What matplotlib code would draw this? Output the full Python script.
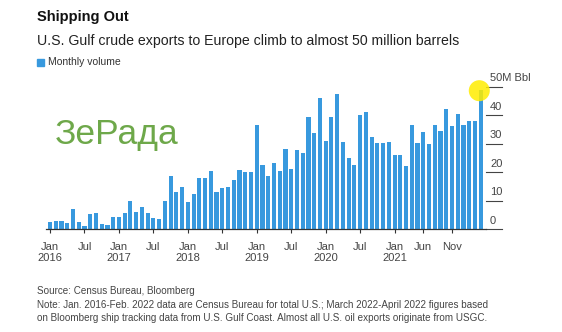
import matplotlib.pyplot as plt
from matplotlib.patches import Rectangle

plt.rcParams['font.family'] = ['Liberation Sans', 'DejaVu Sans']

# monthly crude exports, million barrels, Jan 2016 - Apr 2022
vals_2016 = [2.5, 2.9, 2.9, 2.1, 7.0, 2.5, 1.0, 5.3, 5.6, 1.7, 1.5, 4.4]
vals_2017 = [4.4, 5.8, 10.0, 6.0, 7.7, 5.6, 3.9, 3.5, 10.0, 18.7, 13.2, 15.0]
vals_2018 = [9.7, 12.4, 17.9, 18.0, 20.6, 13.0, 14.5, 15.0, 17.3, 20.9, 20.0, 20.2]
vals_2019 = [36.5, 22.6, 18.8, 23.4, 20.6, 28.3, 21.3, 27.7, 26.9, 39.3, 33.6, 46.0]
vals_2020 = [31.1, 39.3, 47.5, 30.6, 25.1, 22.7, 40.2, 41.1, 32.5, 30.4, 30.4, 30.6]
vals_2021 = [26.2, 26.0, 22.2, 36.5, 30.2, 34.2, 29.8, 36.5, 34.4, 42.1, 36.3, 40.6]
vals_2022 = [36.7, 38.0, 37.8, 48.9]
volume = vals_2016 + vals_2017 + vals_2018 + vals_2019 + vals_2020 + vals_2021 + vals_2022
months = list(range(len(volume)))

tick_pos = [0, 6, 12, 18, 24, 30, 36, 42, 48, 54, 60, 65, 70]
tick_labels = ['Jan\n2016', 'Jul', 'Jan\n2017', 'Jul', 'Jan\n2018', 'Jul', 'Jan\n2019',
               'Jul', 'Jan\n2020', 'Jul', 'Jan\n2021', 'Jun', 'Nov']
y_ticks = [0, 10, 20, 30, 40, 50]
y_labels = ['0', '10', '20', '30', '40', '50M Bbl']

W, H = 562, 332
fig = plt.figure(figsize=(W / 100, H / 100), dpi=100)
fig.patch.set_facecolor('white')

# axes placed in pixels: baseline at y=229, 10M bbl ~ 28.5 px
px_per_unit = 2.852
ax = fig.add_axes([46 / W, (H - 229.3) / H, 440 / W, 52 * px_per_unit / H])
ax.bar(months, volume, width=0.72, color='#3899de', zorder=2)
ax.set_xlim(-0.7, 75.92)
ax.set_ylim(0, 52)

for s in ['top', 'left', 'right']:
    ax.spines[s].set_visible(False)
ax.spines['bottom'].set_color('#333333')
ax.spines['bottom'].set_linewidth(0.9)
ax.set_yticks([])
ax.set_xticks(tick_pos, tick_labels)
ax.tick_params(axis='x', length=3, width=0.8, color='#333333', pad=6,
               labelsize=8, labelcolor='#444444')

# right-hand value scale: short rules with labels sitting above them
tr = ax.get_yaxis_transform()
for v, lab in zip(y_ticks, y_labels):
    ax.plot([1.0, 1.036], [v, v], transform=tr, color='#444444', lw=0.8, clip_on=False)
    ax.annotate(lab, xy=(1.009, v), xycoords=tr, xytext=(0, 2.5),
                textcoords='offset points', va='bottom', ha='left',
                fontsize=8, color='#444444', annotation_clip=False)

# highlight on the latest month
ax.scatter([len(volume) - 1.25], [48.6], s=229, color=(1.0, 0.93, 0.0), alpha=0.85,
           edgecolors='none', zorder=3, clip_on=False)

fig.text(37 / W, 1 - 17 / H, 'Shipping Out', fontsize=10.5, fontweight='bold',
         color='#111111', va='center')
fig.text(37 / W, 1 - 41 / H, 'U.S. Gulf crude exports to Europe climb to almost 50 million barrels',
         fontsize=10.2, color='#222222', va='center')
fig.patches.append(Rectangle((37 / W, 1 - 65.5 / H), 6.5 / W, 6.5 / H,
                             transform=fig.transFigure, color='#3899de'))
fig.text(48 / W, 1 - 62 / H, 'Monthly volume', fontsize=7.5, color='#333333', va='center')

fig.text(55 / W, 1 - 135 / H, 'ЗеРада', fontsize=25.5, color='#6ea84a', va='center')

fig.text(37 / W, 1 - 291 / H, 'Source: Census Bureau, Bloomberg',
         fontsize=7.15, color='#444444', va='center')
fig.text(37 / W, 1 - 304.5 / H,
         'Note: Jan. 2016-Feb. 2022 data are Census Bureau for total U.S.; '
         'March 2022-April 2022 figures based',
         fontsize=7.15, color='#444444', va='center')
fig.text(37 / W, 1 - 318 / H,
         'on Bloomberg ship tracking data from U.S. Gulf Coast. '
         'Almost all U.S. oil exports originate from USGC.',
         fontsize=7.15, color='#444444', va='center')

fig.savefig('out.png', dpi=100)
